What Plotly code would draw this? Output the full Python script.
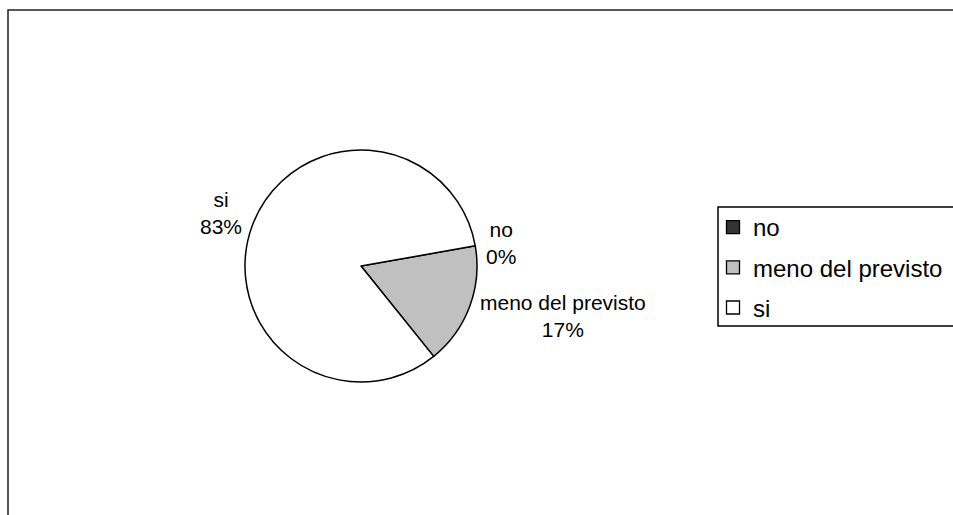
import plotly.graph_objects as go

W, H = 953, 515

labels = ["no", "meno del previsto", "si"]
values = [0, 17, 83]
colors = ["#333333", "#C0C0C0", "#FFFFFF"]

# label anchor positions in pixels (text blocks placed like the original)
label_px = {"no": (501, 243), "meno del previsto": (563, 316), "si": (221, 213)}

total = sum(values)
pcts = [round(100 * v / total) for v in values]

cx, cy, r = 361, 266, 116
FONT = "Arial, Liberation Sans, sans-serif"

fig = go.Figure()
fig.add_trace(go.Pie(
    labels=labels,
    values=values,
    sort=False,
    direction="clockwise",
    rotation=80,
    marker=dict(colors=colors, line=dict(color="#000000", width=1.5)),
    textinfo="none",
    hoverinfo="label+percent",
    domain=dict(x=[(cx - r) / W, (cx + r) / W],
                y=[(H - cy - r) / H, (H - cy + r) / H]),
    showlegend=False,
))

# legend entries (one group each so the spacing can be set)
for lab, col in zip(labels, colors):
    fig.add_trace(go.Scatter(
        x=[None], y=[None], mode="markers", name=lab,
        legendgroup=lab, showlegend=True, hoverinfo="skip",
        marker=dict(symbol="square", size=13, color=col,
                    line=dict(color="#000000", width=1.3)),
    ))

font = dict(family=FONT, size=21, color="#000000")
for lab, p in zip(labels, pcts):
    px, py = label_px[lab]
    fig.add_annotation(
        x=px / W, y=1 - py / H, xref="paper", yref="paper",
        text=f"{lab}<br>{p}%", showarrow=False,
        xanchor="center", yanchor="middle", align="center", font=font,
    )

# outer chart frame
fig.add_shape(type="rect", xref="paper", yref="paper",
              x0=8 / W, x1=1.05, y0=-0.05, y1=1 - 10 / H,
              line=dict(color="#222222", width=1.5), fillcolor="rgba(0,0,0,0)")
# legend box
fig.add_shape(type="rect", xref="paper", yref="paper",
              x0=718 / W, x1=1.05, y0=1 - 326 / H, y1=1 - 207 / H,
              line=dict(color="#000000", width=1.5), fillcolor="rgba(0,0,0,0)")

fig.update_layout(
    width=W, height=H,
    margin=dict(l=0, r=0, t=0, b=0),
    paper_bgcolor="#FFFFFF",
    plot_bgcolor="#FFFFFF",
    xaxis=dict(visible=False),
    yaxis=dict(visible=False),
    legend=dict(
        x=713 / W, y=1 - 205 / H, xanchor="left", yanchor="top",
        font=dict(family=FONT, size=24, color="#000000"),
        borderwidth=0, bgcolor="rgba(0,0,0,0)",
        tracegroupgap=6, itemwidth=30,
    ),
)

fig.write_html("out.html", config={"displayModeBar": False},
               post_script="document.body.style.margin='0';")
